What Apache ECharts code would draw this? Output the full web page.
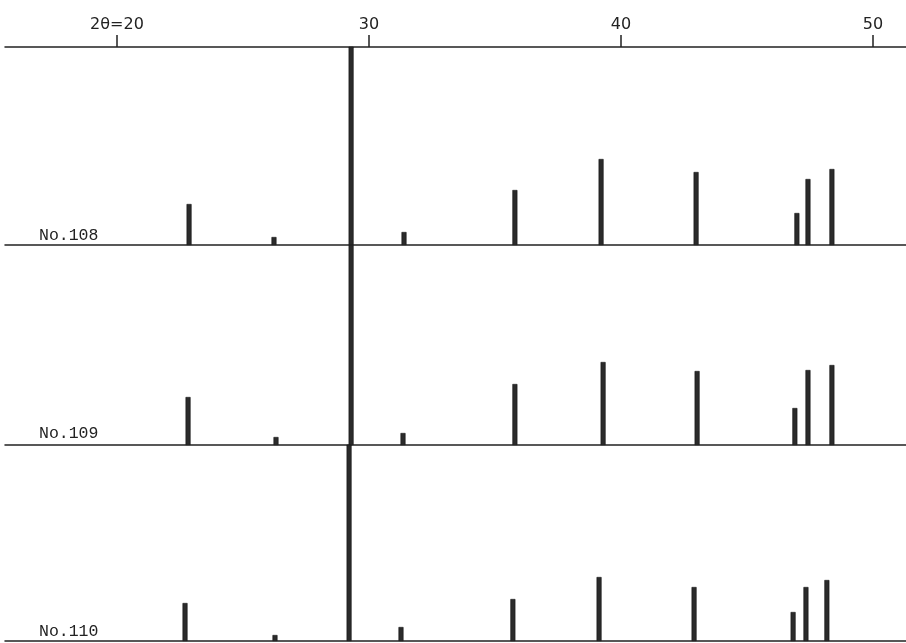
<!DOCTYPE html>
<html>
<head>
<meta charset="utf-8">
<script src="https://cdn.jsdelivr.net/npm/echarts@6/dist/echarts.min.js"></script>
<style>
html,body{margin:0;padding:0;background:#fff;}
#c{width:906px;height:643px;}
</style>
</head>
<body>
<div id="c"></div>
<script>
// 2θ tick labels on the top axis
const tickValues = [20, 30, 40, 50];
const tickLabels = ['2θ=20', '30', '40', '50'];

// sample names
const samples = ['No.108', 'No.109', 'No.110'];

// peak positions (2θ, degrees) per sample
const pos108 = [22.86, 26.23, 29.29, 31.39, 35.79, 39.21, 42.98, 46.98, 47.42, 48.37];
const pos109 = [22.82, 26.31, 29.29, 31.35, 35.79, 39.29, 43.02, 46.90, 47.42, 48.37];
const pos110 = [22.70, 26.27, 29.21, 31.27, 35.71, 39.13, 42.90, 46.83, 47.34, 48.17];

// relative intensities (100 = full panel height; the 29.3° peak runs off scale)
const int108 = [20.5, 4, 100, 6.5, 27.5, 43, 36.5, 16, 33, 38];
const int109 = [24, 4, 100, 6, 30.5, 41.5, 37, 18.5, 37.5, 40];
const int110 = [19, 3, 100, 7, 21, 32, 27, 14.5, 27, 30.5];

const positions = [pos108, pos109, pos110];
const intensities = [int108, int109, int110];

const X_MIN = 15.556, X_MAX = 51.31;
const grids = [
  {left: 5, right: 0, top: 47, height: 198},
  {left: 5, right: 0, top: 245, height: 200},
  {left: 5, right: 0, top: 445, height: 196}
];
const yMax = [99, 100, 98];

const xAxes = [];
const yAxes = [];
const series = [];
const graphics = [];

// top 2θ axis on grid 0
xAxes.push({
  type: 'value', gridIndex: 0, position: 'top', min: X_MIN, max: X_MAX,
  axisLine: {show: true, onZero: false, lineStyle: {color: '#222', width: 1.5}},
  axisTick: {show: true, inside: false, length: 12, customValues: tickValues, lineStyle: {color: '#222', width: 1.5}},
  axisLabel: {show: true, margin: 14, customValues: tickValues, color: '#222', fontFamily: 'DejaVu Sans', fontSize: 16,
    formatter: function (v) { const i = tickValues.indexOf(Math.round(v)); return i >= 0 ? tickLabels[i] : ''; }},
  splitLine: {show: false}
});

samples.forEach(function (name, i) {
  const xi = xAxes.length;
  xAxes.push({
    type: 'value', gridIndex: i, position: 'bottom', min: X_MIN, max: X_MAX,
    axisLine: {show: true, onZero: false, lineStyle: {color: '#222', width: 1.5}},
    axisTick: {show: false}, axisLabel: {show: false}, splitLine: {show: false}
  });
  yAxes.push({
    type: 'value', gridIndex: i, min: 0, max: yMax[i], show: false, splitLine: {show: false}
  });
  series.push({
    type: 'bar', xAxisIndex: xi, yAxisIndex: i, barWidth: 5, clip: true,
    itemStyle: {color: '#2b2b2b', borderColor: '#111', borderWidth: 0.6},
    data: positions[i].map(function (p, k) { return [p, intensities[i][k]]; }),
    animation: false, silent: true
  });
});

const labelBottoms = [241, 439, 637];
samples.forEach(function (name, i) {
  graphics.push({
    type: 'text', left: 39, top: labelBottoms[i] - 14,
    style: {text: name, fill: '#222', font: '16.5px "Liberation Mono"'}
  });
});

const chart = echarts.init(document.getElementById('c'), null, {renderer: 'canvas'});
chart.setOption({
  backgroundColor: '#fff',
  animation: false,
  grid: grids,
  xAxis: xAxes,
  yAxis: yAxes,
  series: series,
  graphic: graphics
});
</script>
</body>
</html>
